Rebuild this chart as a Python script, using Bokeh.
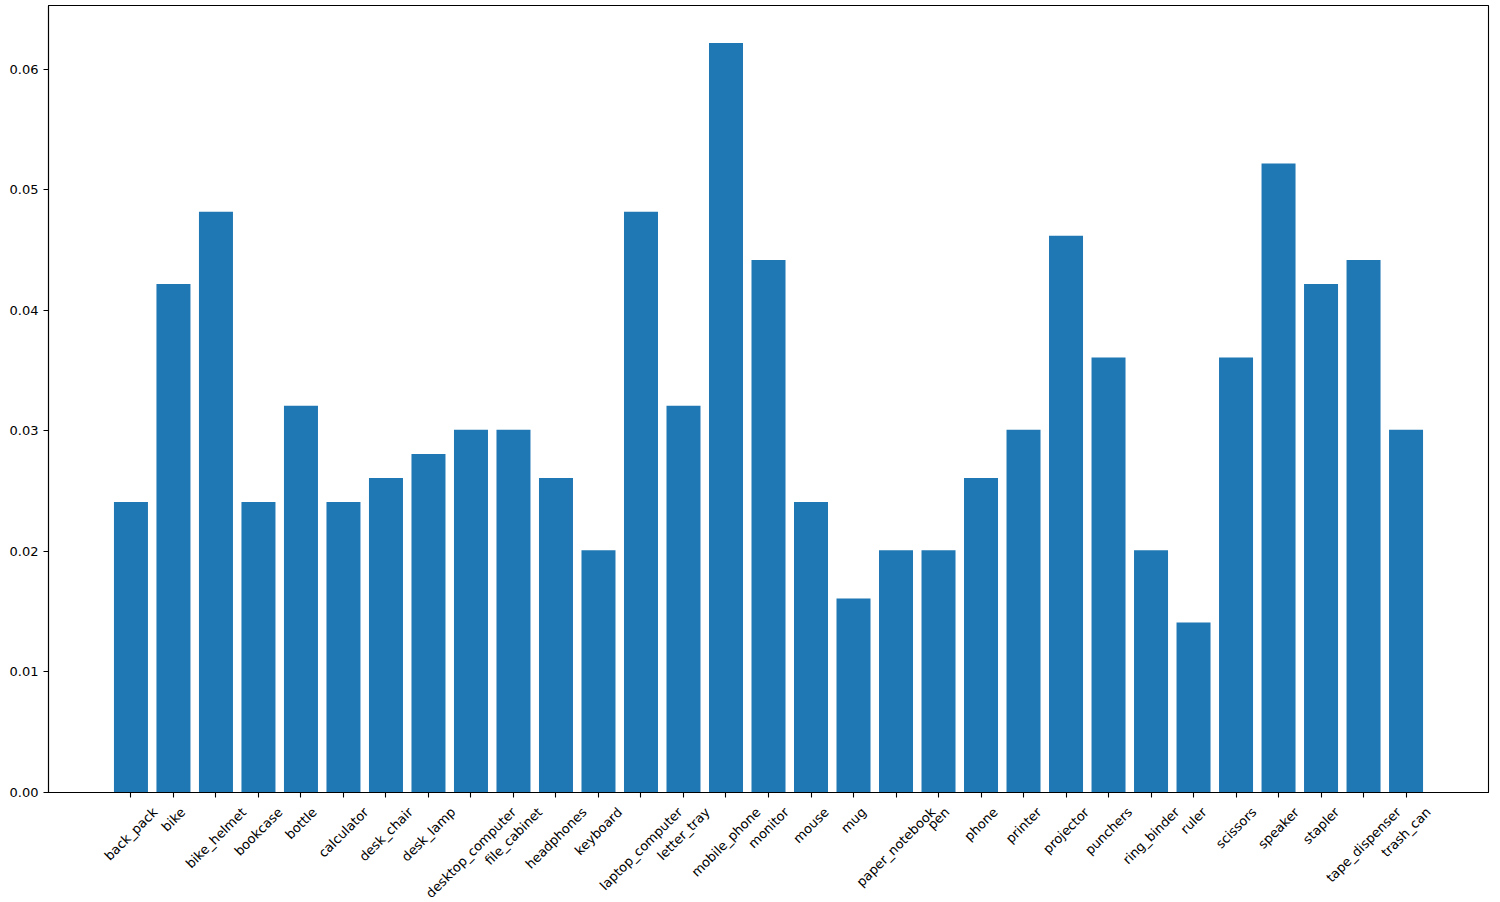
import math
from bokeh.plotting import figure
from bokeh.layouts import column
from bokeh.models import ColumnDataSource, Range1d, FixedTicker, PrintfTickFormatter
from bokeh.core.properties import value
from bokeh.embed import file_html
from bokeh.resources import INLINE

categories = ["back_pack", "bike", "bike_helmet", "bookcase", "bottle", "calculator",
              "desk_chair", "desk_lamp", "desktop_computer", "file_cabinet", "headphones",
              "keyboard", "laptop_computer", "letter_tray", "mobile_phone", "monitor",
              "mouse", "mug", "paper_notebook", "pen", "phone", "printer", "projector",
              "punchers", "ring_binder", "ruler", "scissors", "speaker", "stapler",
              "tape_dispenser", "trash_can"]
values = [0.0241, 0.0422, 0.0482, 0.0241, 0.0321, 0.0241,
          0.0261, 0.0281, 0.0301, 0.0301, 0.0261,
          0.0201, 0.0482, 0.0321, 0.0622, 0.0442,
          0.0241, 0.0161, 0.0201, 0.0201, 0.0261, 0.0301, 0.0462,
          0.0361, 0.0201, 0.0141, 0.0361, 0.0522, 0.0422,
          0.0442, 0.0301]
y_ticks = [0.0, 0.01, 0.02, 0.03, 0.04, 0.05, 0.06]

FONT = "DejaVu Sans"
FS = 13.0
BAR_W = 0.8
W = 1500
LEFT, RIGHT = 48, 12
H1, H2 = 803, 99

# approximate DejaVu Sans advance widths (units per 2048 em)
adv = {'a': 1255, 'b': 1300, 'c': 1126, 'd': 1300, 'e': 1260, 'f': 721, 'g': 1300,
       'h': 1298, 'i': 569, 'j': 569, 'k': 1186, 'l': 569, 'm': 1995, 'n': 1298,
       'o': 1253, 'p': 1300, 'q': 1300, 'r': 842, 's': 1067, 't': 803, 'u': 1298,
       'v': 1212, 'w': 1675, 'x': 1212, 'y': 1212, 'z': 1075, '_': 1024}

xs = list(range(len(categories)))
n = len(categories)
span = (n - 1) + BAR_W
x_range = Range1d(-BAR_W / 2 - 0.05 * span, (n - 1) + BAR_W / 2 + 0.05 * span)
y_end = max(values) * 1.05

p = figure(width=W, height=H1, output_backend="svg", toolbar_location=None,
           x_range=x_range, y_range=Range1d(0, y_end),
           min_border_left=LEFT, min_border_right=RIGHT, min_border_top=5, min_border_bottom=11)
p.background_fill_color = "white"
p.border_fill_color = "white"
p.outline_line_color = "black"
p.outline_line_width = 1.1
p.grid.visible = False

src = ColumnDataSource(dict(x=xs, top=values))
p.vbar(x="x", top="top", width=BAR_W, source=src, fill_color="#1f77b4", line_color=None)

for ax in (p.xaxis[0], p.yaxis[0]):
    ax.axis_line_color = "black"
    ax.axis_line_width = 1.1
    ax.major_tick_line_color = "black"
    ax.major_tick_line_width = 1.1
    ax.major_tick_out = 5
    ax.major_tick_in = 0
    ax.minor_tick_line_color = None
    ax.major_label_text_font = FONT

p.yaxis.ticker = FixedTicker(ticks=y_ticks)
p.yaxis.formatter = PrintfTickFormatter(format="%.2f")
p.yaxis.major_label_standoff = 5
p.yaxis.major_label_text_font_size = f"{FS}px"
p.yaxis.major_label_text_color = "black"

# x axis: ticks only; its labels are drawn in the strip below
p.xaxis.ticker = FixedTicker(ticks=xs)
p.xaxis.major_label_text_font_size = "1px"
p.xaxis.major_label_text_color = None
p.xaxis.major_label_standoff = 0

# strip holding the rotated, bbox-centred category labels (matplotlib style)
q = figure(width=W, height=H2, output_backend="svg", toolbar_location=None,
           x_range=x_range, y_range=Range1d(H2, 0),
           min_border_left=LEFT, min_border_right=RIGHT, min_border_top=0, min_border_bottom=0,
           x_axis_location=None, y_axis_location=None)
q.outline_line_color = None
q.grid.visible = False
q.background_fill_color = "white"
q.border_fill_color = "white"

c = math.cos(math.pi / 4)
h = 1.164 * FS
ys = []
for name in categories:
    L = sum(adv.get(ch, 1200) for ch in name) * FS / 2048.0
    ys.append(1 + (L + h) * c / 2)
lab_src = ColumnDataSource(dict(x=xs, y=ys, text=categories))
q.text(x="x", y="y", text="text", source=lab_src, angle=math.pi / 4,
       text_align="center", text_baseline="middle",
       text_font=value(FONT), text_font_size=value(f"{FS}px"), text_color="black")

layout = column(p, q, spacing=0)
open("out.html", "w").write(file_html(layout, INLINE))
